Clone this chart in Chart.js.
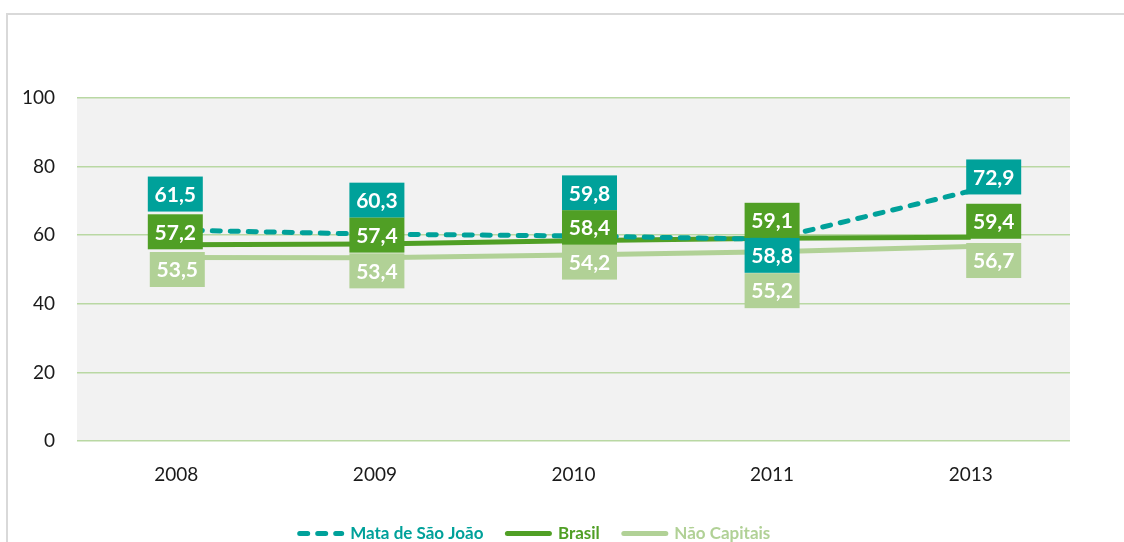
<!DOCTYPE html>
<html>
<head>
<meta charset="utf-8">
<script src="https://cdn.jsdelivr.net/npm/chart.js@4"></script>
<style>
  html, body { margin: 0; padding: 0; background: #fff; overflow: hidden; }
  #wrap { position: relative; width: 1124px; height: 542px; overflow: hidden; }
  #frame { position: absolute; left: 6px; top: 13px; width: 1200px; height: 600px;
           border-top: 2px solid #d9d9d9; border-left: 2px solid #d9d9d9; }
  canvas { position: absolute; left: 0; top: 0; }
</style>
</head>
<body>
<div id="wrap">
  <div id="frame"></div>
  <canvas id="chart" width="1124" height="552"></canvas>
</div>
<script>
const years = ["2008", "2009", "2010", "2011", "2013"];
const mataSaoJoao = [61.5, 60.3, 59.8, 58.8, 72.9];
const brasil = [57.2, 57.4, 58.4, 59.1, 59.4];
const naoCapitais = [53.5, 53.4, 54.2, 55.2, 56.7];
const yTicks = [0, 20, 40, 60, 80, 100];

const TEAL = "#00a19a";
const GREEN = "#509f25";
const LIGHT = "#b1d196";
const FONT = "Lato, 'Open Sans', sans-serif";

// grey plot area like the excel chart
const plotBackground = {
  id: "plotBackground",
  beforeDraw(chart) {
    const { ctx, chartArea: a } = chart;
    ctx.save();
    ctx.fillStyle = "#f2f2f2";
    ctx.fillRect(a.left, a.top, a.right - a.left, a.bottom - a.top);
    ctx.restore();
  }
};

// value boxes, placed by hand in the original
const valueBoxes = {
  id: "valueBoxes",
  afterDatasetsDraw(chart) {
    const ctx = chart.ctx;
    ctx.save();
    ctx.font = "bold 21px " + FONT;
    ctx.textAlign = "center";
    ctx.textBaseline = "middle";
    chart.data.datasets.forEach((ds, i) => {
      const meta = chart.getDatasetMeta(i);
      meta.data.forEach((pt, j) => {
        const [dx, dy] = ds.boxOffsets[j];
        const x = pt.x + dx;
        const y = pt.y + dy;
        ctx.fillStyle = ds.borderColor;
        ctx.fillRect(x - 27.5, y - 17.5, 55, 35);
        ctx.fillStyle = "#ffffff";
        ctx.fillText(ds.data[j].toFixed(1).replace(".", ","), x, y + 1);
      });
    });
    ctx.restore();
  }
};

new Chart(document.getElementById("chart"), {
  type: "line",
  data: {
    labels: years,
    datasets: [
      {
        label: "Mata de São João",
        data: mataSaoJoao,
        borderColor: TEAL,
        borderWidth: 5,
        borderDash: [8, 10],
        borderCapStyle: "round",
        boxOffsets: [[-1, -36], [2, -34], [16, -43], [0, 16], [23, -14]]
      },
      {
        label: "Brasil",
        data: brasil,
        borderColor: GREEN,
        borderWidth: 5,
        boxOffsets: [[-1, -13], [2, -9], [16, -13], [0, -18], [23, -16]]
      },
      {
        label: "Não Capitais",
        data: naoCapitais,
        borderColor: LIGHT,
        borderWidth: 5,
        boxOffsets: [[1, 12], [2, 13], [16, 7], [0, 39], [23, 14]]
      }
    ]
  },
  options: {
    responsive: false,
    animation: false,
    layout: { padding: { top: 98, right: 54, bottom: 0, left: 0 } },
    elements: { point: { radius: 0 }, line: { tension: 0 } },
    scales: {
      x: {
        offset: true,
        grid: { display: false, drawTicks: false },
        border: { display: false },
        ticks: { padding: 22, color: "#1a1a1a", font: { family: FONT, size: 19 } },
        afterFit: (scale) => { scale.height = 60; }
      },
      y: {
        min: yTicks[0],
        max: yTicks[yTicks.length - 1],
        afterBuildTicks: (scale) => { scale.ticks = yTicks.map((v) => ({ value: v })); },
        grid: { color: "#b9d8a3", lineWidth: 1.5, drawTicks: false },
        border: { display: false },
        ticks: { padding: 22, color: "#1a1a1a", font: { family: FONT, size: 19 } },
        afterFit: (scale) => { scale.width = 77; }
      }
    },
    plugins: {
      tooltip: { enabled: false },
      legend: {
        position: "bottom",
        labels: {
          usePointStyle: true,
          pointStyleWidth: 42,
          padding: 24,
          font: { family: FONT, size: 17, weight: "bold" },
          generateLabels: (chart) => chart.data.datasets.map((ds, i) => ({
            text: ds.label,
            fontColor: ds.borderColor,
            strokeStyle: ds.borderColor,
            fillStyle: ds.borderColor,
            lineWidth: 5,
            lineDash: ds.borderDash || [],
            lineCap: "round",
            pointStyle: "line",
            hidden: false,
            datasetIndex: i
          }))
        }
      }
    }
  },
  plugins: [plotBackground, valueBoxes]
});
</script>
</body>
</html>
